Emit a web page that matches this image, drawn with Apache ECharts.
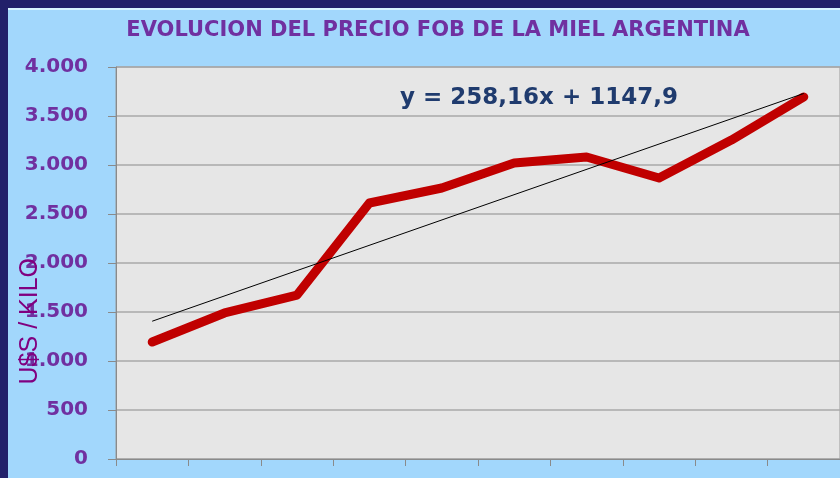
<!DOCTYPE html>
<html>
<head>
<meta charset="utf-8">
<script src="https://cdn.jsdelivr.net/npm/echarts@6/dist/echarts.min.js"></script>
<style>
  html, body { margin: 0; padding: 0; }
  #chartMain { width: 840px; height: 478px; }
</style>
</head>
<body>
<div id="chartMain"></div>
<script>
// datos (US$ por kilo)
var categorias = ['1', '2', '3', '4', '5', '6', '7', '8', '9', '10'];
var precios = [1194, 1490, 1673, 2612, 2765, 3020, 3082, 2867, 3255, 3694];
// linea de tendencia: solo extremos
var tendencia = [1406, null, null, null, null, null, null, null, null, 3730];
var ecuacion = 'y = 258,16x + 1147,9';
var titulo = 'EVOLUCION DEL PRECIO FOB DE LA MIEL ARGENTINA';
var ejeY = 'U$S / KILO';

var myChart = echarts.init(document.getElementById('chartMain'));
var purple = '#7030a0';
var option = {
    backgroundColor: '#a2d7fc',
    animation: false,
    title: {
        text: titulo,
        left: 433,
        textAlign: 'center',
        top: 15,
        textStyle: {
            color: purple,
            fontFamily: 'DejaVu Sans',
            fontWeight: 'bold',
            fontSize: 21
        }
    },
    graphic: [
        { type: 'rect', left: 0, top: 0, shape: { width: 840, height: 8 }, style: { fill: '#22206a' }, z: 10 },
        { type: 'rect', left: 0, top: 0, shape: { width: 8, height: 478 }, style: { fill: '#22206a' }, z: 10 },
        { type: 'rect', left: 8, top: 8, shape: { width: 832, height: 2 }, style: { fill: '#d8f4ff' }, z: 10 },
        {
            type: 'text',
            left: 18,
            top: 258,
            rotation: Math.PI / 2,
            style: {
                text: ejeY,
                fill: '#800080',
                font: '25px "Liberation Sans"',
                textAlign: 'center',
                textVerticalAlign: 'middle'
            },
            z: 20
        },
        {
            type: 'text',
            left: 400,
            top: 87,
            style: {
                text: ecuacion,
                fill: '#1f3b6e',
                font: 'bold 23px "DejaVu Sans"'
            },
            z: 20
        }
    ],
    grid: {
        left: 116,
        top: 67,
        width: 727,
        height: 392,
        show: true,
        backgroundColor: '#e6e6e6',
        borderColor: '#9a9a9a',
        borderWidth: 1
    },
    xAxis: {
        type: 'category',
        data: categorias,
        boundaryGap: true,
        axisLine: { lineStyle: { color: '#8a8a8a', width: 1 } },
        axisTick: { show: true, length: 7, interval: 0, lineStyle: { color: '#8a8a8a' } },
        axisLabel: { show: false },
        splitLine: { show: false }
    },
    yAxis: {
        type: 'value',
        min: 0,
        max: 4000,
        interval: 500,
        axisLine: { show: true, lineStyle: { color: '#8a8a8a' } },
        axisTick: { show: true, length: 8, lineStyle: { color: '#8a8a8a' } },
        axisLabel: {
            margin: 28,
            color: purple,
            fontFamily: 'DejaVu Sans',
            fontWeight: 'bold',
            fontSize: 20,
            formatter: function (v) {
                return String(v).replace(/\B(?=(\d{3})+(?!\d))/g, '.');
            }
        },
        splitLine: { show: true, lineStyle: { color: '#a8a8a8', width: 1.5 } }
    },
    series: [
        {
            name: 'precio',
            type: 'line',
            data: precios,
            symbol: 'none',
            lineStyle: { color: '#c00000', width: 9, cap: 'round', join: 'round' },
            z: 3
        },
        {
            name: 'tendencia',
            type: 'line',
            data: tendencia,
            connectNulls: true,
            symbol: 'none',
            lineStyle: { color: '#000000', width: 1 },
            z: 4
        }
    ]
};
myChart.setOption(option);
</script>
</body>
</html>
